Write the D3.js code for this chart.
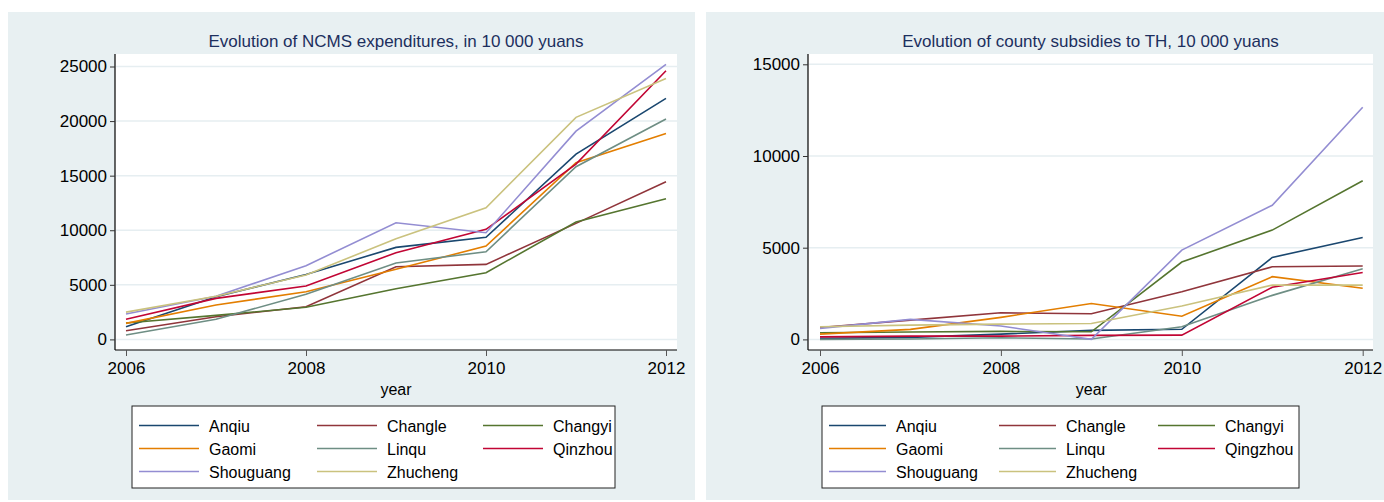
<!DOCTYPE html>
<html>
<head>
<meta charset="utf-8">
<script src="https://cdn.jsdelivr.net/npm/d3@7"></script>
<style>
  body { margin: 0; background: #fff; }
  svg { display: block; font-family: "Liberation Sans", Arial, sans-serif; }
</style>
</head>
<body>
<svg id="chart" width="1384" height="502"></svg>
<script>
// years on the x axis
const years = [2006, 2007, 2008, 2009, 2010, 2011, 2012];

const counties = ["Anqiu", "Changle", "Changyi", "Gaomi", "Linqu", "Qinzhou", "Shouguang", "Zhucheng"];
const countiesRight = ["Anqiu", "Changle", "Changyi", "Gaomi", "Linqu", "Qingzhou", "Shouguang", "Zhucheng"];

// stata s2color palette
const colors = ["#1a476f", "#90353b", "#55752f", "#e37e00", "#6e8e84", "#c10534", "#938dd2", "#cac27e"];

// NCMS expenditures, 10 000 yuans
const ncmsAnqiu     = [1150, 3900, 5950, 8430, 9350, 16980, 22080];
const ncmsChangle   = [800, 2080, 2990, 6660, 6870, 10630, 14440];
const ncmsChangyi   = [1500, 2200, 2940, 4640, 6110, 10750, 12880];
const ncmsGaomi     = [1470, 3150, 4370, 6420, 8550, 16180, 18870];
const ncmsLinqu     = [400, 1840, 4130, 7000, 8030, 15820, 20190];
const ncmsQinzhou   = [1840, 3760, 4890, 7940, 10080, 16060, 24610];
const ncmsShouguang = [2320, 3950, 6750, 10690, 9770, 19080, 25190];
const ncmsZhucheng  = [2500, 3950, 5900, 9220, 12060, 20340, 23910];

// county subsidies to TH, 10 000 yuans
const subAnqiu     = [55, 110, 290, 490, 550, 4470, 5560];
const subChangle   = [650, 1050, 1450, 1400, 2600, 3960, 4000];
const subChangyi   = [360, 400, 435, 415, 4220, 5960, 8650];
const subGaomi     = [290, 545, 1200, 1960, 1260, 3420, 2790];
const subLinqu     = [0, 20, 90, 20, 690, 2400, 3850];
const subQinzhou   = [140, 180, 180, 220, 235, 2840, 3650];
const subShouguang = [600, 1090, 730, 0, 4870, 7310, 12660];
const subZhucheng  = [690, 780, 835, 870, 1820, 2960, 2960];

const xTicks = [2006, 2008, 2010, 2012];
const yTicksLeft = [0, 5000, 10000, 15000, 20000, 25000];
const yTicksRight = [0, 5000, 10000, 15000];

const ncms = [ncmsAnqiu, ncmsChangle, ncmsChangyi, ncmsGaomi, ncmsLinqu, ncmsQinzhou, ncmsShouguang, ncmsZhucheng];
const subsidies = [subAnqiu, subChangle, subChangyi, subGaomi, subLinqu, subQinzhou, subShouguang, subZhucheng];

const svg = d3.select("#chart");

function drawPanel(opt) {
    const g = svg.append("g");

    // outer background
    g.append("rect")
        .attr("x", opt.bx0).attr("y", 12)
        .attr("width", opt.bx1 - opt.bx0).attr("height", 488)
        .attr("fill", "#e8f0f2");

    // plot region
    g.append("rect")
        .attr("x", opt.px0).attr("y", 54)
        .attr("width", opt.px1 - opt.px0).attr("height", 350 - 54)
        .attr("fill", "#fff");

    const x = d3.scaleLinear().domain([2006, 2012]).range([opt.xa, opt.xb]);
    const y = d3.scaleLinear().domain(opt.yDomain).range([339.4, opt.yTop]);

    // gridlines
    g.append("g").selectAll("line")
        .data(opt.yTicks).enter().append("line")
        .attr("x1", opt.px0 + 1).attr("x2", opt.px1)
        .attr("y1", d => y(d)).attr("y2", d => y(d))
        .attr("stroke", "#e6eef1")
        .attr("stroke-width", 1.5);

    // series
    const line = d3.line()
        .x((d, i) => x(years[i]))
        .y(d => y(d));
    g.append("g").selectAll("path")
        .data(opt.series).enter().append("path")
        .attr("d", d => line(d))
        .attr("fill", "none")
        .attr("stroke", (d, i) => colors[i])
        .attr("stroke-width", 1.6);

    // y axis
    const yAxis = d3.axisLeft(y).tickValues(opt.yTicks).tickFormat(d3.format("d")).tickSize(5).tickPadding(3);
    const ya = g.append("g")
        .attr("transform", `translate(${opt.px0},0)`)
        .call(yAxis);
    ya.select(".domain").attr("d", `M0,54V350`).attr("stroke", "#000").attr("stroke-width", 1.2);
    ya.selectAll(".tick line").attr("stroke", "#333");
    ya.selectAll(".tick text").attr("font-size", 17).attr("fill", "#000")
        .attr("font-family", "Liberation Sans, Arial, sans-serif");

    // x axis
    const xAxis = d3.axisBottom(x).tickValues(xTicks).tickFormat(d3.format("d")).tickSize(6).tickPadding(6);
    const xa = g.append("g")
        .attr("transform", "translate(0,350)")
        .call(xAxis);
    xa.select(".domain").attr("d", `M${opt.px0},0H${opt.px1}`).attr("stroke", "#000").attr("stroke-width", 1.2);
    xa.selectAll(".tick line").attr("stroke", "#555");
    xa.selectAll(".tick text").attr("font-size", 17).attr("fill", "#000")
        .attr("font-family", "Liberation Sans, Arial, sans-serif");

    // title
    g.append("text")
        .attr("x", (opt.px0 + opt.px1) / 2 + 0)
        .attr("y", 47)
        .attr("text-anchor", "middle")
        .attr("font-size", 17)
        .attr("fill", "#1c2f5e")
        .text(opt.title);

    // x label
    g.append("text")
        .attr("x", (opt.xa + opt.xb) / 2)
        .attr("y", 395)
        .attr("text-anchor", "middle")
        .attr("font-size", 16)
        .attr("fill", "#000")
        .text("year");

    // legend
    const lg = g.append("g");
    lg.append("rect")
        .attr("x", opt.lx0).attr("y", 406)
        .attr("width", opt.lx1 - opt.lx0).attr("height", 82)
        .attr("fill", "#fff")
        .attr("stroke", "#222")
        .attr("stroke-width", 1);

    const item = lg.selectAll(".item")
        .data(opt.names).enter().append("g")
        .attr("class", "item")
        .attr("transform", (d, i) => `translate(${opt.lx0 + opt.colOff[i % 3]},${425.5 + Math.floor(i / 3) * 23})`);
    item.append("line")
        .attr("x1", 0).attr("x2", opt.lineLen)
        .attr("y1", 0).attr("y2", 0)
        .attr("stroke", (d, i) => colors[i])
        .attr("stroke-width", 1.6);
    item.append("text")
        .attr("x", opt.lineLen + 10)
        .attr("y", 6)
        .attr("font-size", 16)
        .attr("fill", "#000")
        .text(d => d);
}

drawPanel({
    bx0: 8, bx1: 695,
    px0: 115, px1: 677,
    xa: 126, xb: 666,
    yDomain: [0, 25000], yTop: 66.5, yTicks: yTicksLeft,
    series: ncms,
    title: "Evolution of NCMS expenditures, in 10 000 yuans",
    names: counties,
    lx0: 132, lx1: 615, colOff: [7, 185, 351], lineLen: 60
});

drawPanel({
    bx0: 706, bx1: 1384,
    px0: 808, px1: 1373,
    xa: 820, xb: 1362.7,
    yDomain: [0, 15000], yTop: 64.3, yTicks: yTicksRight,
    series: subsidies,
    title: "Evolution of county subsidies to TH, 10 000 yuans",
    names: countiesRight,
    lx0: 822, lx1: 1299, colOff: [7, 177, 336], lineLen: 57
});
</script>
</body>
</html>
